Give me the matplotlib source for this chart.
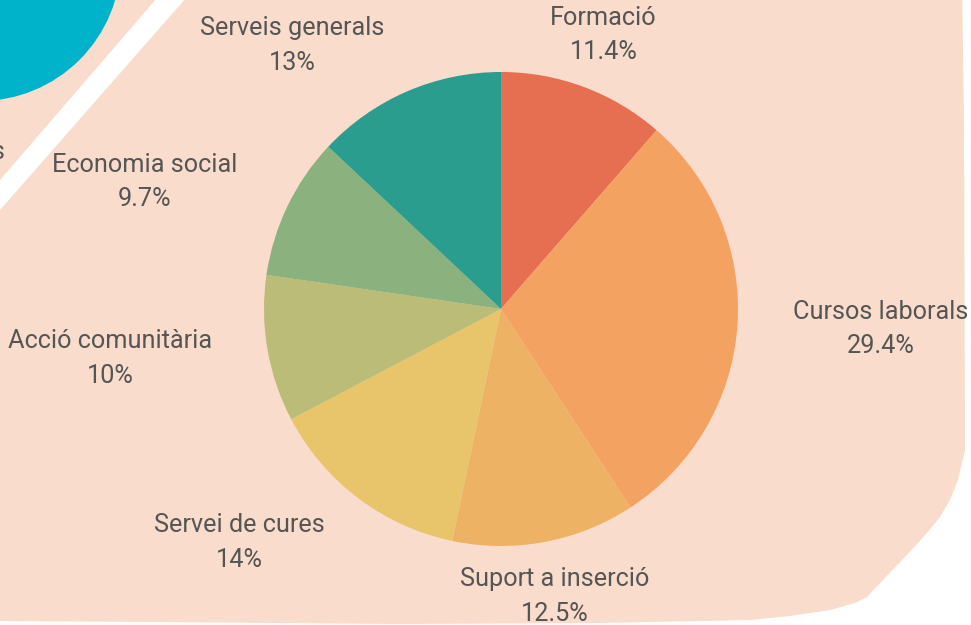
import matplotlib.pyplot as plt
import numpy as np
from matplotlib.patches import Polygon, Circle

plt.rcParams['font.family'] = ['Roboto', 'DejaVu Sans']

# data
labels = ['Formació', 'Cursos laborals', 'Suport a inserció', 'Servei de cures',
          'Acció comunitària', 'Economia social', 'Serveis generals']
values = [11.4, 29.4, 12.5, 14, 10, 9.7, 13]
pct_text = ['11.4%', '29.4%', '12.5%', '14%', '10%', '9.7%', '13%']
colors = ['#E76F51', '#F3A261', '#EEB264', '#E8C46A', '#BBBC77', '#8AB17E', '#2A9D8F']

W, H = 971, 625
fig = plt.figure(figsize=(W / 100, H / 100), dpi=100)
fig.patch.set_facecolor('white')

# background in pixel coords
bg = fig.add_axes([0, 0, 1, 1])
bg.set_xlim(0, W)
bg.set_ylim(H, 0)
bg.axis('off')

blob = [(-20, -20), (962, -20), (964, 120), (965, 450), (958, 480), (950, 500),
        (940, 517), (927, 533), (905, 557), (880, 583), (867, 597), (855, 603),
        (830, 610), (790, 616), (750, 620), (600, 623), (400, 624), (150, 622),
        (0, 621), (-20, 621)]
bg.add_patch(Polygon(blob, closed=True, facecolor='#F9DCCB', edgecolor='none'))
bg.add_patch(Circle((-20, -40), 141, facecolor='#00B2CA', edgecolor='none'))
stripe = [(157, -2), (186, -2), (0, 210), (0, 180)]
bg.add_patch(Polygon(stripe, closed=True, facecolor='white', edgecolor='none'))
bg.text(5, 152, 's', ha='right', va='center', fontsize=18, color='#555555')

# pie
cx, cy, R = 501, 309, 237
ax = fig.add_axes([(cx - R) / W, 1 - (cy + R) / H, 2 * R / W, 2 * R / H])
ax.pie(values, colors=colors, startangle=90, counterclock=False,
       wedgeprops=dict(linewidth=0))
ax.set_xlim(-1, 1)
ax.set_ylim(-1, 1)
ax.set_aspect('auto')
ax.axis('off')

# labels
total = sum(values)
cum = np.cumsum([0] + values[:-1])
for i, (lab, v) in enumerate(zip(labels, values)):
    theta = np.deg2rad((cum[i] + v / 2) / total * 360)
    s, c = np.sin(theta), np.cos(theta)
    x = cx + 1.235 * R * s
    y = cy - 1.235 * R * c
    if lab == 'Serveis generals':
        y += 5
    if abs(s) < 0.37:
        ha = 'center'
    elif s > 0:
        ha = 'left'
    else:
        ha = 'right'
    bg.text(x, y, lab + '\n' + pct_text[i], ha=ha, va='center', multialignment='center',
            fontsize=18.2, color='#555555', linespacing=1.55)

fig.savefig('out.png', dpi=100)
